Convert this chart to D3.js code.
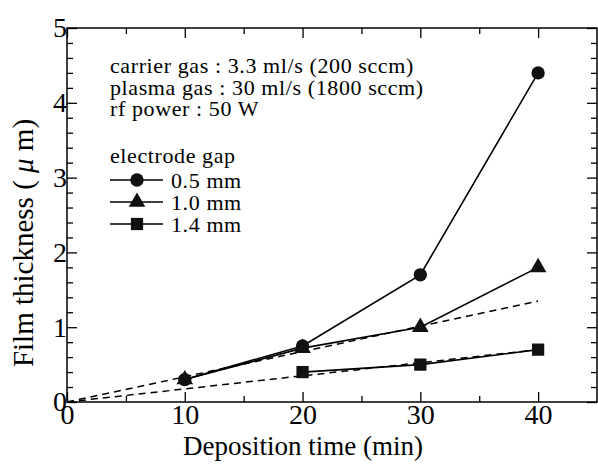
<!DOCTYPE html>
<html>
<head>
<meta charset="utf-8">
<script src="https://cdn.jsdelivr.net/npm/d3@7"></script>
<style>
  body { margin: 0; background: #fff; }
  svg, svg text { font-family: "Liberation Serif", "Times New Roman", Times, "DejaVu Serif", serif; }
</style>
</head>
<body>
<svg id="chart" width="598" height="465"></svg>
<script>
// measured values
const times05 = [10, 20, 30, 40];
const gap05 = [0.3, 0.75, 1.7, 4.4];
const times10 = [10, 20, 30, 40];
const gap10 = [0.3, 0.72, 1.0, 1.8];
const times14 = [20, 30, 40];
const gap14 = [0.4, 0.5, 0.7];
// dashed guide lines through origin
const fitX = [0, 40];
const fitHigh = [0, 1.35];
const fitLow = [0, 0.7];
const legendNotes = ['carrier gas : 3.3 ml/s (200 sccm)', 'plasma gas : 30 ml/s (1800 sccm)', 'rf power : 50 W'];
const legendLabels = ['0.5 mm', '1.0 mm', '1.4 mm'];
const xTicks = [0, 10, 20, 30, 40];
const yTicks = [0, 1, 2, 3, 4, 5];

const svg = d3.select('#chart');
const serif = '"Liberation Serif", "Times New Roman", Times, "DejaVu Serif", serif';

const xScale = d3.scaleLinear().domain([0, 45]).range([67, 597]);
const yScale = d3.scaleLinear().domain([0, 5]).range([402, 28]);

const zip = (xs, ys) => xs.map((x, i) => ({ x: x, y: ys[i] }));
const line = d3.line().x(d => xScale(d.x)).y(d => yScale(d.y));

// frame
svg.append('rect')
  .attr('x', xScale(0)).attr('y', yScale(5))
  .attr('width', xScale(45) - xScale(0)).attr('height', yScale(0) - yScale(5))
  .attr('fill', 'none').attr('stroke', '#000').attr('stroke-width', 1.5);

const minorX = d3.range(5, 45, 5).filter(v => v % 10 !== 0);
const minorY = d3.range(0.2, 5, 0.2).map(v => +v.toFixed(1)).filter(v => v % 1 !== 0);

function ticks(axis, pos, values, size) {
  svg.append('g')
    .attr('transform', pos)
    .call(axis.tickValues(values).tickSize(size).tickFormat(''))
    .call(g => g.select('.domain').remove())
    .selectAll('line').attr('stroke-width', 1.3);
}

// bottom axis
svg.append('g')
  .attr('transform', `translate(0,${yScale(0)})`)
  .call(d3.axisBottom(xScale).tickValues(xTicks).tickSize(-10).tickPadding(2).tickFormat(d3.format('d')))
  .attr('font-family', serif).attr('font-size', 28)
  .call(g => g.select('.domain').remove())
  .call(g => g.selectAll('line').attr('stroke-width', 1.3))
  .call(g => g.selectAll('text').attr('fill', '#000'));
ticks(d3.axisBottom(xScale), `translate(0,${yScale(0)})`, minorX, -6);
ticks(d3.axisTop(xScale), `translate(0,${yScale(5)})`, xTicks, -10);
ticks(d3.axisTop(xScale), `translate(0,${yScale(5)})`, minorX, -6);

// left axis
svg.append('g')
  .attr('transform', `translate(${xScale(0)},0)`)
  .call(d3.axisLeft(yScale).tickValues(yTicks).tickSize(-10).tickPadding(0).tickFormat(d3.format('d')))
  .attr('font-family', serif).attr('font-size', 28)
  .call(g => g.select('.domain').remove())
  .call(g => g.selectAll('line').attr('stroke-width', 1.3))
  .call(g => g.selectAll('text').attr('fill', '#000'));
ticks(d3.axisLeft(yScale), `translate(${xScale(0)},0)`, minorY, -6);
ticks(d3.axisRight(yScale), `translate(${xScale(45)},0)`, yTicks, -10);
ticks(d3.axisRight(yScale), `translate(${xScale(45)},0)`, minorY, -6);

// axis titles
svg.append('text')
  .attr('x', 303).attr('y', 455)
  .attr('text-anchor', 'middle').attr('font-size', 27)
  .text('Deposition time (min)');

const yTitle = svg.append('text')
  .attr('transform', `translate(33,243) rotate(-90)`)
  .attr('text-anchor', 'middle').attr('font-size', 29);
yTitle.append('tspan').text('Film thickness ( ');
yTitle.append('tspan').attr('font-style', 'italic').text('μ');
yTitle.append('tspan').text(' m)');

// dashed guides
[fitHigh, fitLow].forEach(ys => {
  svg.append('path')
    .attr('d', line(zip(fitX, ys)))
    .attr('fill', 'none').attr('stroke', '#000')
    .attr('stroke-width', 1.5).attr('stroke-dasharray', '7,5');
});

// series
const series = [
  { pts: zip(times14, gap14), sym: d3.symbolSquare, size: 150 },
  { pts: zip(times10, gap10), sym: d3.symbolTriangle, size: 120 },
  { pts: zip(times05, gap05), sym: d3.symbolCircle, size: 140 }
];
const symbol = d3.symbol();

series.forEach(s => {
  svg.append('path')
    .attr('d', line(s.pts))
    .attr('fill', 'none').attr('stroke', '#000').attr('stroke-width', 1.6);
  svg.append('g').selectAll('path')
    .data(s.pts)
    .join('path')
    .attr('transform', d => `translate(${xScale(d.x)},${yScale(d.y)})`)
    .attr('d', symbol.type(s.sym).size(s.size)())
    .attr('fill', '#111');
});

// legend / notes
const notes = svg.append('g').attr('font-size', 22).attr('letter-spacing', 0.6);
legendNotes.forEach((t, i) => {
  notes.append('text').attr('x', 110).attr('y', 73 + i * 21.5).text(t);
});
notes.append('text').attr('x', 110).attr('y', 163).text('electrode gap');

const legendSyms = [d3.symbolCircle, d3.symbolTriangle, d3.symbolSquare];
const legendSizes = [140, 120, 150];
legendLabels.forEach((t, i) => {
  const y = 180 + i * 22;
  notes.append('line')
    .attr('x1', 110).attr('x2', 163).attr('y1', y).attr('y2', y)
    .attr('stroke', '#000').attr('stroke-width', 1.6);
  notes.append('path')
    .attr('transform', `translate(137,${y})`)
    .attr('d', symbol.type(legendSyms[i]).size(legendSizes[i])())
    .attr('fill', '#111');
  notes.append('text').attr('x', 171).attr('y', y + 8).text(t);
});
</script>
</body>
</html>
